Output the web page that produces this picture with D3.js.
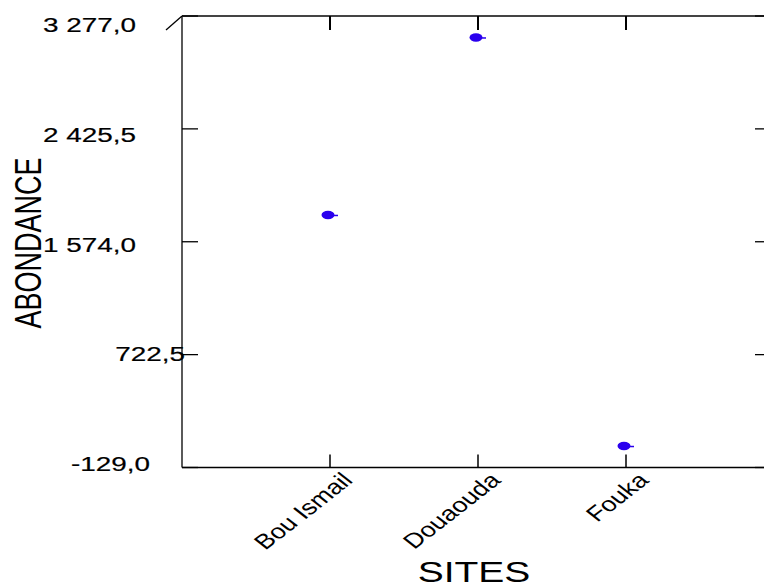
<!DOCTYPE html>
<html>
<head>
<meta charset="utf-8">
<script src="https://cdn.jsdelivr.net/npm/d3@7/dist/d3.min.js"></script>
<style>
  html, body { margin: 0; padding: 0; background: #fff; }
  svg { display: block; font-family: "Liberation Sans", Arial, sans-serif; }
</style>
</head>
<body>
<svg id="chart" width="764" height="588"></svg>
<script>
// Abundance per site
const sites = ["Bou Ismail", "Douaouda", "Fouka"];
const abundance = [1776, 3115, 33];

// Y axis ticks and their printed labels
const yTicks = [-129.0, 722.5, 1574.0, 2425.5, 3277.0];
const yTickLabels = ["-129,0", "722,5", "1 574,0", "2 425,5", "3 277,0"];

const axisTitleX = "SITES";
const axisTitleY = "ABONDANCE";

const svg = d3.select("#chart");

// Plot frame: sites sit at positions 1..3 on a 0..4 band
const x = d3.scaleLinear().domain([0, 4]).range([182, 774]);
const y = d3.scaleLinear().domain([-129, 3277]).range([467.5, 16]);
// tick labels are spread on a slightly tighter band than the ticks
const yLab = d3.scaleLinear().domain([-129, 3277]).range([464, 25]);

const ink = "#000";
const frame = svg.append("g").attr("fill", "none").attr("stroke", ink).attr("stroke-width", 1.3);

// frame lines
frame.append("line").attr("x1", x(0)).attr("x2", x(0)).attr("y1", y(3277)).attr("y2", y(-129));
frame.append("line").attr("x1", x(0)).attr("x2", x(4)).attr("y1", y(-129)).attr("y2", y(-129));
frame.append("line").attr("x1", x(0)).attr("x2", x(4)).attr("y1", y(3277)).attr("y2", y(3277))
  .attr("stroke", "#444").attr("stroke-width", 2.2);
frame.append("line").attr("x1", x(4)).attr("x2", x(4)).attr("y1", y(3277)).attr("y2", y(-129));

// slanted stroke at the top-left corner
frame.append("path")
  .attr("d", d3.line()([[x(0) - 16, y(3277) + 14], [x(0), y(3277)]]));

// inward y ticks on both sides
yTicks.forEach(v => {
  frame.append("line").attr("x1", x(0)).attr("x2", x(0) + 16).attr("y1", y(v)).attr("y2", y(v));
  frame.append("line").attr("x1", x(4)).attr("x2", x(4) - 19).attr("y1", y(v)).attr("y2", y(v));
});
// x ticks: upward from the bottom, downward from the top
sites.forEach((s, i) => {
  frame.append("line").attr("x1", x(i + 1)).attr("x2", x(i + 1))
    .attr("y1", y(-129)).attr("y2", y(-129) - 13).attr("stroke-width", 1.5);
  frame.append("line").attr("x1", x(i + 1)).attr("x2", x(i + 1))
    .attr("y1", y(3277)).attr("y2", y(3277) + 14).attr("stroke-width", 2);
});

// y tick labels (glyphs stretched horizontally)
const labelRight = { "722,5": 185, "-129,0": 150 };
yTicks.forEach((v, i) => {
  const lab = yTickLabels[i];
  const xr = labelRight[lab] !== undefined ? labelRight[lab] : 136;
  svg.append("text")
    .attr("transform", `translate(${xr},${yLab(v)}) scale(1.36,1)`)
    .attr("text-anchor", "end")
    .attr("dominant-baseline", "central")
    .attr("font-size", 20.5)
    .attr("fill", ink)
    .attr("stroke", ink)
    .attr("stroke-width", 0.2)
    .text(lab);
});

// x category labels, rotated
sites.forEach((s, i) => {
  svg.append("text")
    .attr("transform", `translate(${x(i + 1) + 24},${y(-129) + 14}) scale(1.28,1) rotate(-45)`)
    .attr("text-anchor", "end")
    .attr("font-size", 21)
    .attr("fill", ink)
    .text(s);
});

// axis titles
svg.append("text")
  .attr("transform", `translate(474,582) scale(1.3,1)`)
  .attr("text-anchor", "middle")
  .attr("font-size", 30)
  .attr("fill", ink)
  .text(axisTitleX);

svg.append("text")
  .attr("transform", `translate(41,243) scale(1.4,1) rotate(-90)`)
  .attr("text-anchor", "middle")
  .attr("font-size", 27)
  .attr("fill", ink)
  .text(axisTitleY);

// points: blue ellipse with a short tail to the right
const blue = "#2a00ee";
const pts = svg.append("g");
abundance.forEach((v, i) => {
  const cx = x(i + 1), cy = y(v);
  pts.append("ellipse").attr("cx", cx - 2).attr("cy", cy).attr("rx", 6.5).attr("ry", 4.2).attr("fill", blue);
  pts.append("line").attr("x1", cx + 3).attr("x2", cx + 8).attr("y1", cy + 0.5).attr("y2", cy + 0.5)
    .attr("stroke", blue).attr("stroke-width", 1.5);
});
</script>
</body>
</html>
